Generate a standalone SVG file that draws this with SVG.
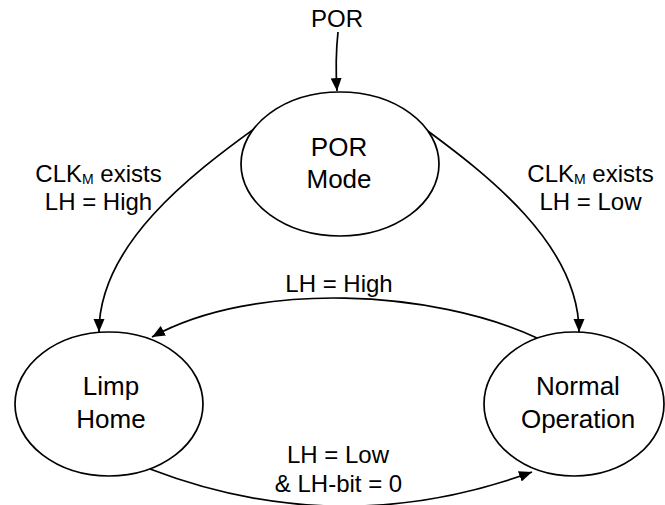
<svg xmlns="http://www.w3.org/2000/svg" width="665" height="505" viewBox="0 0 665 505">
<style>
.node{fill:#fff;stroke:#000;stroke-width:1.7}
.edge{fill:none;stroke:#000;stroke-width:1.7;marker-end:url(#arrow)}
text{font-family:"Liberation Sans",Arial,Helvetica,sans-serif;fill:#000;text-anchor:middle}
.nl{font-size:26px}
.el{font-size:24px}
.sub{font-size:14px}
</style>
<defs>
<marker id="arrow" markerUnits="userSpaceOnUse" markerWidth="14" markerHeight="12" refX="13" refY="6" orient="auto">
<path d="M0,0.5 L13,6 L0,11.5 z" fill="#000"/>
</marker>
</defs>
<rect width="665" height="505" fill="#fff"/>
<g id="connectors">
<path class="edge" d="M338 32 Q335 60 337 91"/>
<path class="edge" d="M258 126 C190 175 99 245 99 332"/>
<path class="edge" d="M421 126 C488 175 579 245 579 332"/>
<path class="edge" d="M537 338 C435 290 255 280 152 337"/>
<path class="edge" d="M150 469 Q340 542 532 472"/>
</g>
<g id="labels">
<text class="el" x="337" y="27">POR</text>
<text class="el" x="98.5" y="182">CLK<tspan class="sub" dy="2">M</tspan><tspan dy="-2"> exists</tspan></text>
<text class="el" x="98.5" y="210">LH = High</text>
<text class="el" x="590.5" y="182">CLK<tspan class="sub" dy="2">M</tspan><tspan dy="-2"> exists</tspan></text>
<text class="el" x="590.5" y="210">LH = Low</text>
<text class="el" x="339" y="292">LH = High</text>
<text class="el" x="338" y="463">LH = Low</text>
<text class="el" x="338.5" y="492">&amp; LH-bit = 0</text>
</g>
<g id="por-mode">
<ellipse class="node" cx="340" cy="164" rx="99" ry="72"/>
<text class="nl" x="339" y="156">POR</text>
<text class="nl" x="339" y="188">Mode</text>
</g>
<g id="limp-home">
<ellipse class="node" cx="109" cy="404" rx="94" ry="72"/>
<text class="nl" x="111" y="395">Limp</text>
<text class="nl" x="111" y="428">Home</text>
</g>
<g id="normal-operation">
<ellipse class="node" cx="574" cy="404" rx="90" ry="72"/>
<text class="nl" x="578" y="395">Normal</text>
<text class="nl" x="578" y="428">Operation</text>
</g>
</svg>
